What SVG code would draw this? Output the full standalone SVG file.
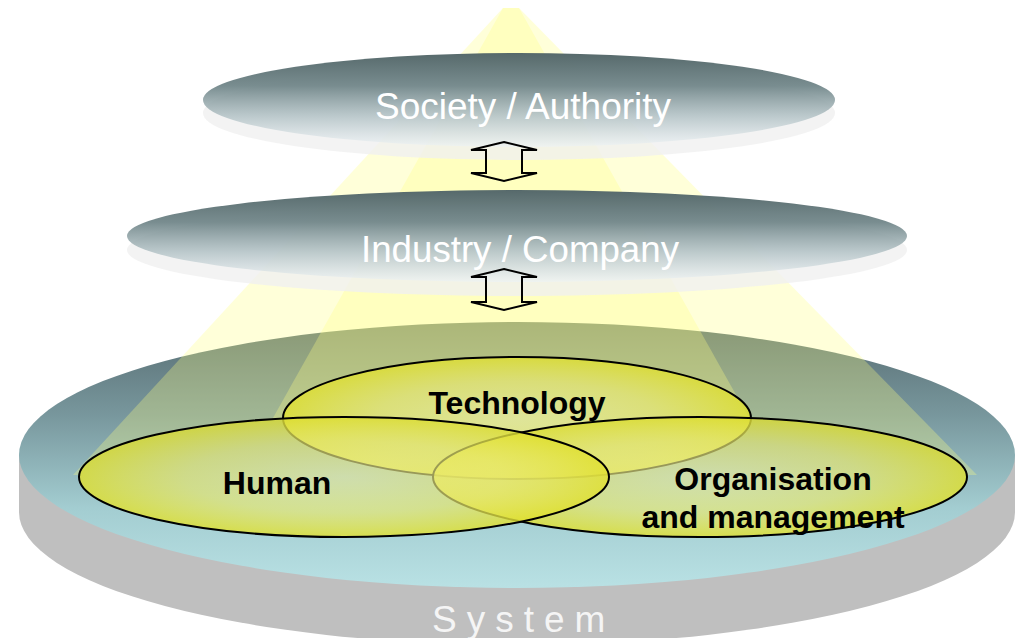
<svg xmlns="http://www.w3.org/2000/svg" width="1021" height="638" viewBox="0 0 1021 638">
<defs>
<style>
.lbl-w{font-family:"Liberation Sans",Arial,sans-serif;fill:#ffffff;font-size:36px;text-anchor:middle}
.lbl-b{font-family:"Liberation Sans",Arial,sans-serif;fill:#000000;font-size:32px;font-weight:bold;text-anchor:middle}
.venn{fill:url(#vennFill);stroke:#000000;stroke-width:2}
.cone{fill:#ffff80;fill-opacity:0.3}
.arrow{fill:none;stroke:#000000;stroke-width:2;stroke-linejoin:miter}
.band{fill:#f0f0f0;fill-opacity:0.8}
.face{fill:url(#diskFace)}
</style>
<linearGradient id="diskFace" x1="0" y1="0" x2="0" y2="1">
<stop offset="0" stop-color="#56696b" stop-opacity="1"/>
<stop offset="0.35" stop-color="#72878a" stop-opacity="0.95"/>
<stop offset="0.68" stop-color="#aebfc3" stop-opacity="0.78"/>
<stop offset="1" stop-color="#edf3f6" stop-opacity="0.65"/>
</linearGradient>
<linearGradient id="baseFace" x1="0" y1="0" x2="0" y2="1">
<stop offset="0" stop-color="#566b70"/>
<stop offset="0.35" stop-color="#78979d"/>
<stop offset="0.7" stop-color="#a3cdd1"/>
<stop offset="1" stop-color="#b9e1e4"/>
</linearGradient>
<radialGradient id="vennFill" cx="0.5" cy="0.5" r="0.5">
<stop offset="0" stop-color="#f4f4a0" stop-opacity="0.6"/>
<stop offset="0.6" stop-color="#eaea70" stop-opacity="0.68"/>
<stop offset="1" stop-color="#e0e030" stop-opacity="0.82"/>
</radialGradient>
<mask id="coneMask" maskUnits="userSpaceOnUse" x="0" y="0" width="1021" height="638">
<rect x="0" y="0" width="1021" height="638" fill="#ffffff"/>
<ellipse cx="344" cy="477" rx="265" ry="60" fill="#000000"/>
<ellipse cx="700" cy="477" rx="267" ry="60" fill="#000000"/>
</mask>
</defs>
<rect x="0" y="0" width="1021" height="638" fill="#ffffff"/>

<g id="node-system">
<ellipse cx="517" cy="512" rx="498" ry="133" fill="#bfbfbf"/>
<rect x="19" y="455" width="996" height="57" fill="#bfbfbf"/>
<ellipse cx="517" cy="455" rx="498" ry="133" fill="url(#baseFace)"/>
<text x="432" y="632" font-family="Liberation Sans, Arial, sans-serif" font-size="37" fill="#f5f5f5" letter-spacing="10">System</text>
</g>

<g id="light-beam" mask="url(#coneMask)">
<polygon class="cone" points="503,8 519,8 977,475 73,475"/>
<polygon class="cone" points="503,8 519,8 781,475 241,475"/>
</g>

<g id="node-society">
<ellipse class="band" cx="519" cy="113" rx="316" ry="47"/>
<ellipse class="face" cx="519" cy="100" rx="316" ry="47"/>
<text class="lbl-w" x="523" y="119" textLength="296" lengthAdjust="spacingAndGlyphs">Society / Authority</text>
</g>

<g id="node-industry">
<ellipse class="band" cx="517" cy="250" rx="390" ry="46"/>
<ellipse class="face" cx="517" cy="236" rx="390" ry="46"/>
<text class="lbl-w" x="520" y="262" textLength="318" lengthAdjust="spacingAndGlyphs">Industry / Company</text>
</g>

<g id="node-technology">
<ellipse class="venn" cx="517" cy="418" rx="234" ry="61"/>
</g>
<g id="node-organisation">
<ellipse class="venn" cx="700" cy="477" rx="267" ry="60"/>
</g>
<g id="node-human">
<ellipse class="venn" cx="344" cy="477" rx="265" ry="60"/>
</g>

<g id="venn-labels">
<text class="lbl-b" x="517" y="414">Technology</text>
<text class="lbl-b" x="277" y="494">Human</text>
<text class="lbl-b" x="773" y="490">Organisation</text>
<text class="lbl-b" x="773" y="528">and management</text>
</g>

<g id="connectors">
<path class="arrow" d="M504,142 L537,150 L522,150 L522,173 L537,173 L504,181 L471,173 L486,173 L486,150 L471,150 Z"/>
<path class="arrow" d="M504,269 L537,277 L522,277 L522,302 L537,302 L504,310 L471,302 L486,302 L486,277 L471,277 Z"/>
</g>
</svg>
